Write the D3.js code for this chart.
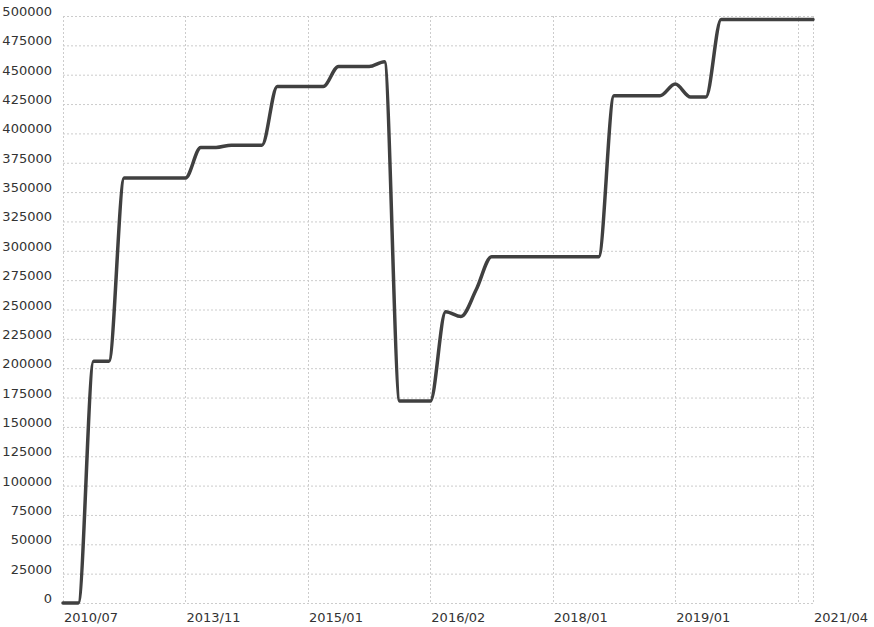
<!DOCTYPE html>
<html>
<head>
<meta charset="utf-8">
<script src="https://cdn.jsdelivr.net/npm/d3@7"></script>
<style>
  body { margin: 0; background: #fff; }
  text { font-family: "DejaVu Sans", Verdana, sans-serif; font-size: 13px; fill: #333; }
</style>
</head>
<body>
<svg id="chart"></svg>
<script>
var width = 874,
    height = 627;

// categories (only every 8th label is shown on the axis, plus the last one)
var dates = [
  "2010/07", "2010/11", "2011/03", "2011/08", "2012/01", "2012/05", "2012/09", "2013/03",
  "2013/11", "2014/01", "2014/02", "2014/04", "2014/05", "2014/07", "2014/09", "2014/11",
  "2015/01", "2015/03", "2015/04", "2015/06", "2015/07", "2015/09", "2015/10", "2015/12",
  "2016/02", "2016/05", "2016/08", "2016/11", "2017/02", "2017/04", "2017/06", "2017/08",
  "2018/01", "2018/02", "2018/04", "2018/05", "2018/07", "2018/09", "2018/10", "2018/12",
  "2019/01", "2019/04", "2019/07", "2019/10", "2020/01", "2020/04", "2020/08", "2020/11",
  "2021/02", "2021/04"
];
var values = [
  0, 0, 206000, 206000, 362000, 362000, 362000, 362000,
  362000, 388000, 388000, 390000, 390000, 390000, 440000, 440000,
  440000, 440000, 457000, 457000, 457000, 461000, 172000, 172000,
  172000, 248000, 244000, 267000, 295000, 295000, 295000, 295000,
  295000, 295000, 295000, 295000, 432000, 432000, 432000, 432000,
  442000, 431000, 431000, 497000, 497000, 497000, 497000, 497000,
  497000, 497000
];
var yTicks = d3.range(0, 500001, 25000);
var labelEvery = 8;

var margin = {left: 63, right: 61, top: 16, bottom: 24};

var svg = d3.select('#chart')
            .attr('width', width)
            .attr('height', height);

var x = d3.scalePoint()
          .domain(dates)
          .range([margin.left, width - margin.right]);

var y = d3.scaleLinear()
          .domain([0, 500000])
          .range([height - margin.bottom, margin.top]);

var gridDates = dates.filter((d, i) => i % labelEvery === 0);
var labelDates = gridDates.filter((d, i) => i < gridDates.length - 1).concat([dates[dates.length - 1]]);

var grid = svg.append('g').attr('class', 'grid');

grid.selectAll('.hgrid')
    .data(yTicks)
    .enter()
    .append('line')
    .attr('x1', x.range()[0])
    .attr('x2', x.range()[1])
    .attr('y1', d => y(d) + 0.5)
    .attr('y2', d => y(d) + 0.5)
    .attr('stroke', '#ccc')
    .attr('stroke-dasharray', '2,2');

grid.selectAll('.vgrid')
    .data(gridDates.concat([dates[dates.length - 1]]))
    .enter()
    .append('line')
    .attr('x1', d => Math.round(x(d)) + 0.5)
    .attr('x2', d => Math.round(x(d)) + 0.5)
    .attr('y1', y(500000))
    .attr('y2', y(0))
    .attr('stroke', '#ccc')
    .attr('stroke-dasharray', '2,2');

// y labels sit on their gridline
svg.append('g')
   .selectAll('text')
   .data(yTicks)
   .enter()
   .append('text')
   .attr('x', 52)
   .attr('y', d => y(d))
   .attr('text-anchor', 'end')
   .text(d => d);

// x labels start at their tick
svg.append('g')
   .selectAll('text')
   .data(labelDates)
   .enter()
   .append('text')
   .attr('x', d => x(d) + 1)
   .attr('y', height - 5)
   .attr('text-anchor', 'start')
   .text(d => d);

var line = d3.line()
             .x((d, i) => x(dates[i]))
             .y(d => y(d))
             .curve(d3.curveMonotoneX);

svg.append('path')
   .datum(values)
   .attr('fill', 'none')
   .attr('stroke', '#404040')
   .attr('stroke-width', 3.5)
   .attr('stroke-linecap', 'round')
   .attr('stroke-linejoin', 'round')
   .attr('d', line);
</script>
</body>
</html>
